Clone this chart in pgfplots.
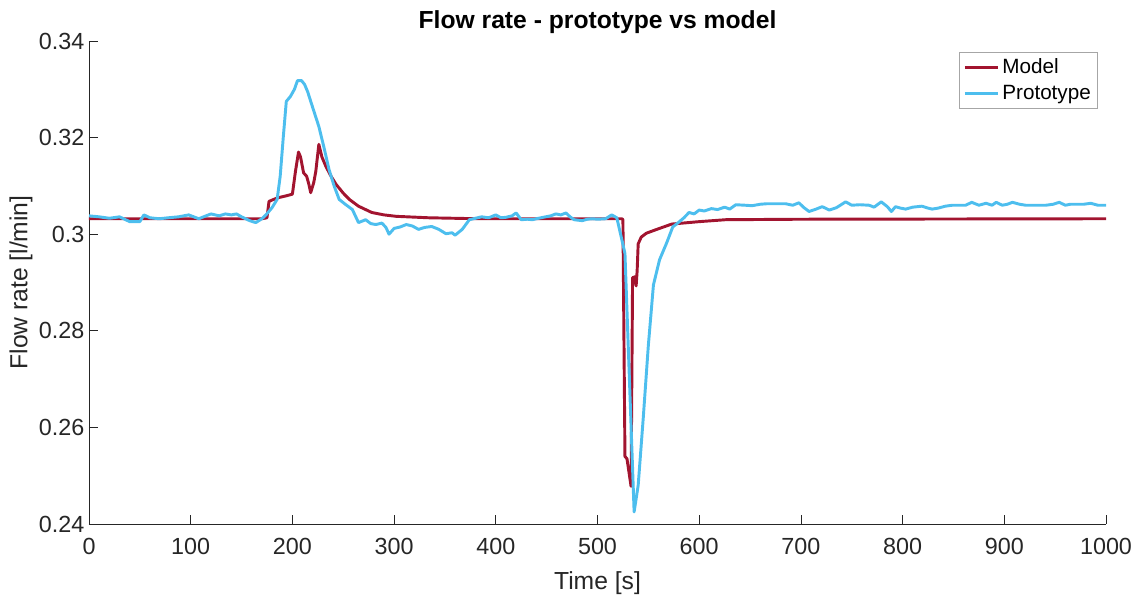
\documentclass[border=0pt]{standalone}
\usepackage{fontspec}
\setmainfont{Liberation Sans}
\usepackage{pgfplots}
\pgfplotsset{compat=1.18}
\definecolor{mred}{rgb}{0.635,0.078,0.184}
\definecolor{mblue}{rgb}{0.301,0.745,0.933}
\definecolor{axgray}{gray}{0.15}
\begin{document}
\begin{tikzpicture}
\begin{axis}[
  scale only axis,
  width=762.75pt, height=362.25pt,
  xmin=0, xmax=1000, ymin=0.24, ymax=0.34,
  axis x line*=bottom, axis y line*=left,
  axis line style={axgray, line width=0.6pt},
  tick style={axgray, line width=0.6pt},
  tick align=inside,
  major tick length=7pt,
  xtick={0,100,...,1000},
  xticklabels={0,100,200,300,400,500,600,700,800,900,1000},
  ytick={0.24,0.26,0.28,0.30,0.32,0.34},
  yticklabels={0.24,0.26,0.28,0.3,0.32,0.34},
  ticklabel style={font=\fontsize{17.5}{20}\selectfont, text=axgray},
  xticklabel style={yshift=-7pt},
  /pgf/number format/assume math mode=true,
  xlabel={Time [s]},
  ylabel={Flow rate [l/min]},
  label style={font=\fontsize{18.5}{22}\selectfont, text=axgray},
  xlabel style={yshift=-6pt},
  ylabel style={yshift=-2pt},
  title={\textbf{Flow rate - prototype vs model}},
  title style={font=\fontsize{18.5}{22}\selectfont, yshift=-4pt},
  legend style={at={(0.992,0.978)}, anchor=north east, font=\fontsize{15.5}{18}\selectfont, draw=gray!70, line width=0.6pt, inner sep=3pt, row sep=3.5pt},
  legend cell align=left,
  legend image code/.code={\draw[#1] (0pt,0pt) -- (25pt,0pt);},
  clip=false,
]
\addplot[mred, line width=2.2pt, line join=round] coordinates {
(0,0.3032) (170,0.3032) (175,0.3034) (177,0.3068) (185,0.3075) (195,0.3080) (200,0.3083)
(203,0.3130) (206,0.3170) (208,0.3160) (211,0.3127) (214,0.3120) (216,0.3105) (218,0.3086)
(221,0.3107) (223,0.3130) (226,0.3186) (229,0.3160) (233,0.3140) (238,0.3120) (243,0.3103)
(250,0.3085) (256,0.3072) (265,0.3058) (278,0.3045) (290,0.3040) (302,0.3037) (334,0.3034)
(383,0.3032) (524,0.3032) (525,0.3030) (527,0.2540) (529,0.2535) (533,0.2478) (534.5,0.2910) (537,0.2912)
(538,0.2893) (539,0.2925) (540,0.2980) (543,0.2994) (548,0.3002) (557,0.3009) (573,0.3021)
(600,0.3026) (626,0.3030) (700,0.3031) (1000,0.3032)
};
\addlegendentry{Model}
\addplot[mblue, line width=2.2pt, line join=round] coordinates {
(0,0.3038) (10,0.3036) (20,0.3033) (30,0.3036) (40,0.3026) (50,0.3026) (54,0.3040) (60,0.3034)
(69,0.3032) (78,0.3034) (88,0.3036) (98,0.3040) (108,0.3032) (115,0.3038) (120,0.3042) (128,0.3038)
(134,0.3042) (140,0.3040) (145,0.3042) (150,0.3036) (158,0.3028) (164,0.3024) (170,0.3032) (174,0.3040)
(180,0.3055) (185,0.3072) (188,0.3120) (191,0.3200) (194,0.3275) (198,0.3285) (202,0.3300) (205,0.3318)
(209,0.3318) (212,0.3310) (215,0.3295) (220,0.3262) (226,0.3223) (231,0.3180) (236,0.3134) (241,0.3100)
(246,0.3072) (252,0.3062) (259,0.3051) (265,0.3024) (272,0.3030) (277,0.3022) (282,0.3020) (288,0.3023)
(292,0.3014) (295,0.3000) (300,0.3012) (306,0.3015) (312,0.3020) (318,0.3017) (324,0.3010) (330,0.3014)
(337,0.3016) (344,0.3010) (351,0.3001) (357,0.3003) (360,0.2998) (367,0.3010) (374,0.3030) (380,0.3033)
(386,0.3036) (393,0.3034) (400,0.3040) (405,0.3034) (410,0.3035) (416,0.3038) (420,0.3044) (425,0.3030)
(431,0.3031) (436,0.3030) (442,0.3033) (449,0.3036) (454,0.3038) (459,0.3042) (464,0.3040) (469,0.3044)
(473,0.3036) (477,0.3030) (485,0.3028) (490,0.3031) (495,0.3032) (500,0.3031) (508,0.3032) (514,0.3040)
(519,0.3034) (524,0.2988) (527,0.2960) (536,0.2425) (540,0.2480) (545,0.2620) (550,0.2770) (555,0.2895)
(561,0.2947) (568,0.2982) (574,0.3015) (580,0.3025) (585,0.3034) (590,0.3045) (595,0.3042) (600,0.3050)
(605,0.3048) (612,0.3053) (618,0.3051) (625,0.3056) (630,0.3052) (636,0.3061) (645,0.3060) (652,0.3059)
(660,0.3062) (666,0.3063) (675,0.3063) (685,0.3063) (692,0.3060) (698,0.3065) (703,0.3055) (708,0.3047)
(715,0.3052) (721,0.3057) (728,0.3050) (735,0.3055) (744,0.3067) (750,0.3060) (758,0.3061) (767,0.3060)
(772,0.3056) (779,0.3067) (785,0.3057) (789,0.3047) (793,0.3057) (798,0.3054) (803,0.3052) (810,0.3056)
(819,0.3058) (825,0.3054) (829,0.3052) (835,0.3054) (842,0.3058) (849,0.3060) (855,0.3060) (862,0.3060)
(868,0.3066) (875,0.3060) (882,0.3064) (888,0.3060) (892,0.3066) (898,0.3060) (903,0.3062) (908,0.3066)
(915,0.3062) (921,0.3060) (930,0.3060) (941,0.3060) (948,0.3062) (954,0.3066) (960,0.3060) (965,0.3062)
(970,0.3062) (978,0.3062) (985,0.3064) (992,0.3060) (1000,0.3060)
};
\addlegendentry{Prototype}
\end{axis}
\path[use as bounding box] ([shift={(-66.75pt,-51pt)}]current axis.south west) rectangle ([shift={(24pt,30.75pt)}]current axis.north east);
\end{tikzpicture}
\end{document}
